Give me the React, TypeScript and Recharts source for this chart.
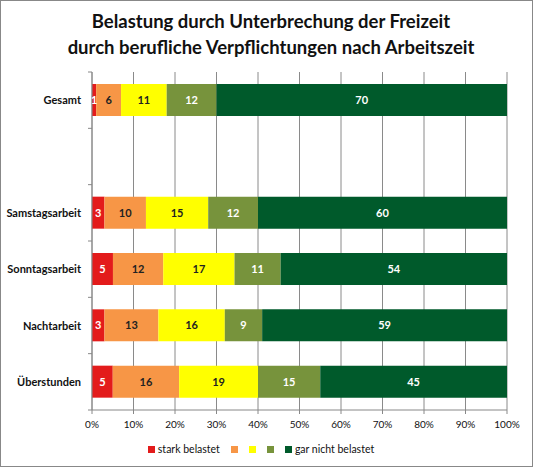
import { BarChart, Bar, XAxis, YAxis, CartesianGrid, LabelList } from 'recharts';

const categories = ['Gesamt', '', 'Samstagsarbeit', 'Sonntagsarbeit', 'Nachtarbeit', 'Überstunden'];

const starkBelastet = [1, null, 3, 5, 3, 5];
const stufe2 = [6, null, 10, 12, 13, 16];
const stufe3 = [11, null, 15, 17, 16, 19];
const stufe4 = [12, null, 12, 11, 9, 15];
const garNichtBelastet = [70, null, 60, 54, 59, 45];

const xTicks = [0, 0.1, 0.2, 0.3, 0.4, 0.5, 0.6, 0.7, 0.8, 0.9, 1];

const seriesNames = ['stark belastet', '', '', '', 'gar nicht belastet'];
const seriesColors = ['#E31B1B', '#F79646', '#FFFF00', '#77933C', '#005A2B'];
const labelColors = ['#fff', '#222', '#222', '#fff', '#fff'];

const data = categories.map((name, i) => ({
  name,
  s1: starkBelastet[i],
  s2: stufe2[i],
  s3: stufe3[i],
  s4: stufe4[i],
  s5: garNichtBelastet[i],
}));

const FONT = 'Lato, "Noto Sans", sans-serif';
const PLOT_TOP = 72;
const PLOT_BOTTOM = 410;
const SLOT = (PLOT_BOTTOM - PLOT_TOP) / categories.length;

function CategoryTick({ x, y, payload, index }: any) {
  return (
    <g>
      <line x1={x + 4} x2={x + 8} y1={y - SLOT / 2} y2={y - SLOT / 2} stroke="#888" />
      {index === categories.length - 1 && (
        <line x1={x + 4} x2={x + 8} y1={y + SLOT / 2} y2={y + SLOT / 2} stroke="#888" />
      )}
      <text x={x - 3} y={y} dy={4} textAnchor="end" fontSize={11} fontWeight="bold" fill="#111" fontFamily={FONT}>
        {payload.value}
      </text>
    </g>
  );
}

function PercentTick({ x, y, payload }: any) {
  return (
    <text x={x} y={y} dy={8} textAnchor="middle" fontSize={10} fill="#111" fontFamily={FONT}>
      {`${Math.round(payload.value * 100)}%`}
    </text>
  );
}

function LegendRow() {
  return (
    <div style={{ position: 'absolute', top: 442, left: 0, width: 531, display: 'flex', justifyContent: 'center', alignItems: 'center', fontFamily: FONT, fontSize: 10.5, color: '#111' }}>
      {seriesColors.map((c, i) => (
        <span key={i} style={{ display: 'flex', alignItems: 'center', marginRight: 11 }}>
          <span style={{ width: 7, height: 7, background: c, display: 'inline-block', marginRight: seriesNames[i] ? 3 : 0 }} />
          {seriesNames[i]}
        </span>
      ))}
    </div>
  );
}

// grid lines follow the 10% ticks across the plot area
const gridX = ({ offset }: any) => xTicks.map((t) => offset.left + t * offset.width);

export default function App() {
  const keys = ['s1', 's2', 's3', 's4', 's5'];
  return (
    <div style={{ position: 'absolute', left: 0, top: 0, width: 531, height: 465, border: '1px solid #888', background: '#fff' }}>
      <div style={{ position: 'absolute', top: 7, left: 0, width: 540, textAlign: 'center', fontFamily: FONT, fontWeight: 'bold', fontSize: 18.5, lineHeight: '26px', color: '#111' }}>
        Belastung durch Unterbrechung der Freizeit
        <br />
        durch berufliche Verpflichtungen nach Arbeitszeit
      </div>
      <BarChart
        width={531}
        height={465}
        data={data}
        layout="vertical"
        stackOffset="expand"
        margin={{ top: PLOT_TOP - 1, right: 25, bottom: 465 - PLOT_BOTTOM + 1 - 30, left: 8 }}
      >
        <CartesianGrid horizontal={false} stroke="#8a8a8a" verticalCoordinatesGenerator={gridX} />
        <XAxis
          type="number"
          domain={[0, 1]}
          ticks={xTicks}
          tick={<PercentTick />}
          axisLine={{ stroke: '#888' }}
          tickLine={{ stroke: '#888' }}
          tickSize={4}
          tickMargin={6}
          height={30}
        />
        <YAxis
          type="category"
          dataKey="name"
          width={83}
          axisLine={{ stroke: '#888' }}
          tickLine={false}
          tick={<CategoryTick />}
          interval={0}
        />
        {keys.map((k, i) => (
          <Bar key={k} dataKey={k} stackId="a" fill={seriesColors[i]} barSize={32} isAnimationActive={false}>
            <LabelList
              dataKey={k}
              position="center"
              fill={labelColors[i]}
              fontSize={11}
              fontWeight="bold"
              fontFamily={FONT}
            />
          </Bar>
        ))}
      </BarChart>
      <LegendRow />
    </div>
  );
}
